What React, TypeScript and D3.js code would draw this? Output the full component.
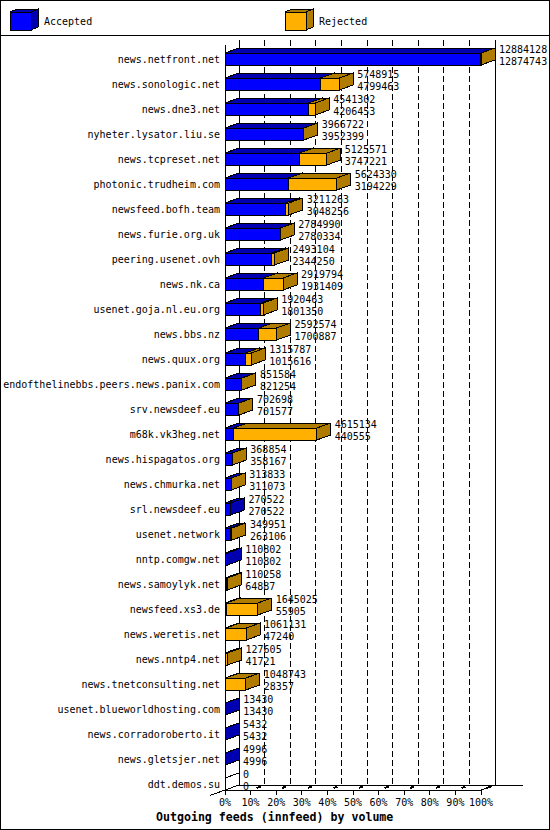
// Outgoing innfeed volume per peer, drawn as GD-style 3D stacked hbars.
import * as d3 from "d3";

const hosts = [
  "news.netfront.net",
  "news.sonologic.net",
  "news.dne3.net",
  "nyheter.lysator.liu.se",
  "news.tcpreset.net",
  "photonic.trudheim.com",
  "newsfeed.bofh.team",
  "news.furie.org.uk",
  "peering.usenet.ovh",
  "news.nk.ca",
  "usenet.goja.nl.eu.org",
  "news.bbs.nz",
  "news.quux.org",
  "endofthelinebbs.peers.news.panix.com",
  "srv.newsdeef.eu",
  "m68k.vk3heg.net",
  "news.hispagatos.org",
  "news.chmurka.net",
  "srl.newsdeef.eu",
  "usenet.network",
  "nntp.comgw.net",
  "news.samoylyk.net",
  "newsfeed.xs3.de",
  "news.weretis.net",
  "news.nntp4.net",
  "news.tnetconsulting.net",
  "usenet.blueworldhosting.com",
  "news.corradoroberto.it",
  "news.gletsjer.net",
  "ddt.demos.su",
];

// offered volume (top number) and accepted volume (bottom number)
const totals = [
  12884128, 5748915, 4541302, 3966722, 5125571, 5624330, 3211263, 2784990,
  2493104, 2919794, 1920463, 2592574, 1315787, 851584, 702698, 4615134,
  368854, 313833, 270522, 349951, 110802, 110258, 1645025, 1061131, 127605,
  1048743, 13430, 5432, 4996, 0,
];
const accepted = [
  12874743, 4799463, 4206453, 3952399, 3747221, 3194229, 3048256, 2780334,
  2344250, 1931409, 1801350, 1700887, 1015616, 821254, 701577, 440555,
  358167, 311073, 270522, 263106, 110802, 64887, 55905, 47240, 41721, 28357,
  13430, 5432, 4996, 0,
];

const pctTicks = [0, 10, 20, 30, 40, 50, 60, 70, 80, 90, 100];
const legendLabels = ["Accepted", "Rejected"];
const title = "Outgoing feeds (innfeed) by volume";

const W = 550;
const H = 830;
const DX = 14;
const DY = 5;
const FONT = "'DejaVu Sans Mono', monospace";
const FILL = [
  ["#0000ff", "#0000b0"],
  ["#ffb000", "#b07c00"],
];

function Box({ x0, x1, top, bot, c }: { x0: number; x1: number; top: number; bot: number; c: string[] }) {
  return (
    <g stroke="#000" strokeWidth={1}>
      <rect x={x0} y={top} width={x1 - x0} height={bot - top} fill={c[0]} />
      <polygon points={`${x0},${top} ${x0 + DX},${top - DY} ${x1 + DX},${top - DY} ${x1},${top}`} fill={c[1]} />
      <polygon points={`${x1},${top} ${x1 + DX},${top - DY} ${x1 + DX},${bot - DY} ${x1},${bot}`} fill={c[1]} />
    </g>
  );
}

export default function App() {
  const left = 225;
  const right = 481;
  const floor = 790;

  const x = d3.scaleLinear().domain([0, d3.max(totals) as number]).range([left, right]);
  const pct = d3.scaleLinear().domain([0, 100]).range([left, right]);
  const y = d3.scaleBand<string>().domain(hosts).range([40, floor]);

  return (
    <svg
      width={W}
      height={H}
      style={{ position: "absolute", left: 0, top: 0, background: "#fff" }}
      fontFamily={FONT}
      fontSize={10}
      shapeRendering="crispEdges"
    >
      <rect x={0.5} y={0.5} width={W - 1} height={H - 1} fill="#fff" stroke="#000" />
      <line x1={0} x2={W} y1={35.5} y2={35.5} stroke="#000" />

      {/* legend */}
      {legendLabels.map((lab, i) => {
        const lx = i === 0 ? 10 : 285;
        return (
          <g key={lab}>
            <g stroke="#000">
              <rect x={lx} y={12} width={21} height={18} fill={FILL[i][0]} />
              <polygon points={`${lx},12 ${lx + 7},9 ${lx + 28},9 ${lx + 21},12`} fill={FILL[i][1]} />
              <polygon points={`${lx + 21},12 ${lx + 28},9 ${lx + 28},27 ${lx + 21},30`} fill={FILL[i][1]} />
            </g>
            <text x={lx + 34} y={24.5}>{lab}</text>
          </g>
        );
      })}

      {/* back wall grid */}
      {pctTicks.slice(1, -1).map((t) => (
        <line key={t} x1={pct(t) + DX} x2={pct(t) + DX} y1={40} y2={floor - DY} stroke="#000" strokeDasharray="6,3" />
      ))}
      <g stroke="#000">
        <line x1={left + DX} x2={left + DX} y1={40} y2={floor - DY} />
        <line x1={right + DX} x2={right + DX} y1={40} y2={floor - DY} />
        <line x1={left} x2={left} y1={45} y2={floor} />
        <line x1={left + DX} x2={523} y1={floor - DY} y2={floor - DY} />
        <line x1={left} x2={right} y1={floor} y2={floor} />
        <line x1={right} x2={right + DX} y1={floor} y2={floor - DY} />
        <line x1={left + DX} x2={left - 15} y1={floor - DY} y2={floor + 5.4} />
      </g>

      {/* bars */}
      {hosts.map((h, i) => {
        const top = (y(h) as number) + 13;
        const bot = (y(h) as number) + 25;
        const a = accepted[i];
        const t = totals[i];
        return (
          <g key={h}>
            {a > 0 && <Box x0={x(0)} x1={x(a)} top={top} bot={bot} c={FILL[0]} />}
            {t - a > 0 && <Box x0={x(a)} x1={x(t)} top={top} bot={bot} c={FILL[1]} />}
            {t === 0 && <line x1={left} y1={top} x2={left + DX} y2={top - DY} stroke="#000" />}
          </g>
        );
      })}

      {/* category labels */}
      {hosts.map((h) => (
        <text key={h} x={220} y={(y(h) as number) + 22.5} textAnchor="end">
          {h}
        </text>
      ))}

      {/* value labels */}
      {hosts.map((h, i) => {
        const c = (y(h) as number) + 19;
        const vx = x(totals[i]) + DX + 4;
        return (
          <g key={h}>
            <text x={vx} y={c - 6}>{totals[i]}</text>
            <text x={vx} y={c + 5.5}>{accepted[i]}</text>
          </g>
        );
      })}

      {/* percent axis */}
      {pctTicks.map((t) => (
        <g key={t}>
          <line x1={pct(t)} x2={pct(t)} y1={floor} y2={floor + 5} stroke="#000" />
          {t > 0 && (
            <line x1={pct(t) + 6} x2={pct(t) + 10} y1={floor - 2} y2={floor - 3.5} stroke="#000" strokeWidth={2} />
          )}
          <text x={pct(t)} y={805.5} textAnchor="middle">{`${t}%`}</text>
        </g>
      ))}

      <text x={156} y={821} fontWeight="bold" fontSize={11.6}>
        {title}
      </text>
    </svg>
  );
}
